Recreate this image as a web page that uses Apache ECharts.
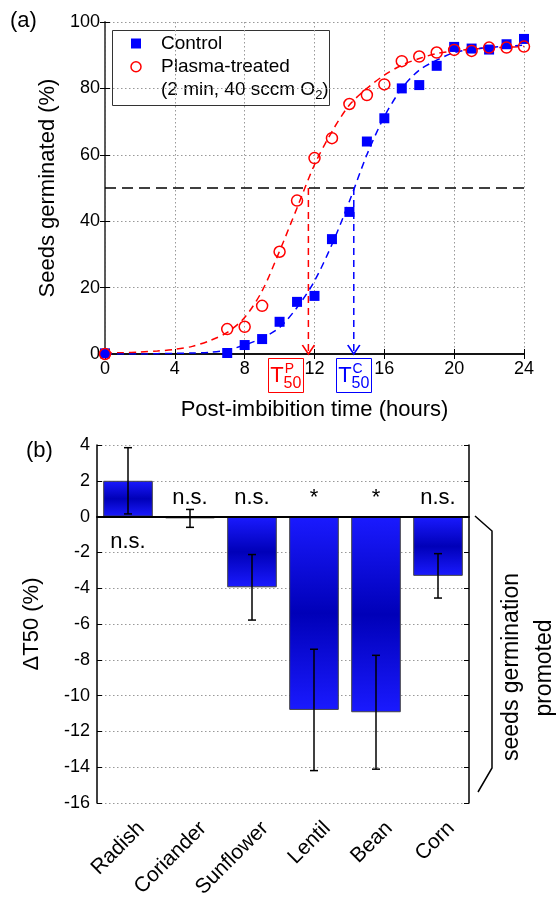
<!DOCTYPE html>
<html>
<head>
<meta charset="utf-8">
<script src="https://cdn.jsdelivr.net/npm/echarts@6/dist/echarts.min.js"></script>
<style>
  html, body { margin: 0; padding: 0; background: #fff; }
  #chart { width: 559px; height: 900px; }
</style>
</head>
<body>
<div id="chart"></div>
<script>
// (a) germination data
const hours = [0, 7, 8, 9, 10, 11, 12, 13, 14, 15, 16, 17, 18, 19, 20, 21, 22, 23, 24];
const control = [0.2, 0.3, 2.7, 4.5, 9.7, 15.7, 17.5, 34.6, 42.8, 64, 71, 80, 81, 86.8, 92.5, 92, 91.7, 93.3, 94.9];
const plasma = [0, 7.5, 8.2, 14.5, 30.8, 46.2, 59, 65, 75.3, 78, 81.2, 88.2, 89.6, 90.8, 91.6, 91.3, 92.3, 92.3, 92.6];

// dashed fit curves
const fitHours = [0, 1, 2, 3, 4, 5, 6, 7, 8, 9, 10, 11, 12, 13, 14, 15, 16, 17, 18, 19, 20, 21, 22, 23, 24];
const plasmaFit = [0.3, 0.4, 0.6, 0.9, 1.4, 2.3, 4, 6.5, 11, 19, 31, 44, 57, 67, 75, 80, 84, 87, 89, 90.5, 91.3, 91.8, 92.2, 92.4, 92.6];
const controlFit = [0, 0, 0, 0.1, 0.2, 0.3, 0.5, 1.2, 2.7, 4.8, 8, 14, 22, 33, 46, 60, 71.5, 80, 85.5, 88.5, 90.8, 91.8, 92.3, 92.7, 93];

const t50Plasma = 11.65;
const t50Control = 14.25;
const halfLevel = 50;

// (b) delta T50
const crops = ['Radish', 'Coriander', 'Sunflower', 'Lentil', 'Bean', 'Corn'];
const deltaT50 = [2.0, -0.1, -3.95, -10.8, -10.93, -3.31];
const deltaErr = [1.85, 0.5, 1.83, 3.39, 3.18, 1.24];
const sigLabels = ['n.s.', 'n.s.', 'n.s.', '*', '*', 'n.s.'];
const sigLabelY = [-1.4, 1.05, 1.05, 1.05, 1.05, 1.05];

const FONT = '"Liberation Sans", Arial, sans-serif';
const RED = '#ff0000';
const BLUE = '#0000ff';

const chart = echarts.init(document.getElementById('chart'));

const pairs = (xs, ys) => xs.map((x, i) => [x, ys[i]]);
const dotted = { color: '#999', width: 1, type: [1.5, 2.5] };
const arrowItem = (x, c) => ({ value: [x, 0], itemStyle: { color: 'none', borderColor: c, borderWidth: 1.5, opacity: 1 } });

const option = {
  animation: false,
  backgroundColor: '#fff',
  textStyle: { fontFamily: FONT, color: '#000' },
  grid: [
    { left: 105, right: 35, top: 22, height: 332, outerBoundsMode: 'none' },
    { left: 97, right: 90, top: 445, height: 358, outerBoundsMode: 'none' },
  ],
  xAxis: [
    {
      gridIndex: 0, type: 'value', min: 0, max: 24, interval: 4, position: 'bottom',
      axisLine: { lineStyle: { color: '#555', width: 2 } },
      axisTick: { inside: true, length: 5, lineStyle: { color: '#000' } },
      axisLabel: { fontSize: 18, color: '#000', margin: 6, fontFamily: FONT },
      splitLine: { show: true, lineStyle: dotted },
      name: 'Post-imbibition time (hours)', nameLocation: 'middle', nameGap: 45,
      nameTextStyle: { fontSize: 22, color: '#000', fontFamily: FONT },
    },
    {
      gridIndex: 0, type: 'value', min: 0, max: 24, interval: 4, position: 'top',
      axisLine: { lineStyle: { color: '#000', width: 1.5 } },
      axisTick: { inside: true, length: 5, lineStyle: { color: '#000' } },
      axisLabel: { show: false }, splitLine: { show: false },
    },
    {
      gridIndex: 1, type: 'category', data: crops, position: 'bottom',
      axisLine: { lineStyle: { color: '#000', width: 1.5 } },
      axisTick: { inside: true, length: 6, alignWithLabel: true, lineStyle: { color: '#000' } },
      axisLabel: {
        fontSize: 21, color: '#000', fontFamily: FONT, rotate: 45, interval: 0,
        margin: 9, verticalAlign: 'top', padding: [8, 0, 0, 0],
      },
    },
    {
      gridIndex: 1, type: 'category', data: crops, position: 'top',
      axisLine: { lineStyle: { color: '#000', width: 1.5 } },
      axisTick: { inside: true, length: 6, alignWithLabel: true, lineStyle: { color: '#000' } },
      axisLabel: { show: false },
    },
  ],
  yAxis: [
    {
      gridIndex: 0, type: 'value', min: 0, max: 100, interval: 20, position: 'left',
      axisLine: { show: true, lineStyle: { color: '#000', width: 1.5 } },
      axisTick: { show: true, inside: true, length: 5, lineStyle: { color: '#000' } },
      axisLabel: { fontSize: 18, color: '#000', margin: 5, fontFamily: FONT },
      splitLine: { show: true, lineStyle: dotted },
      name: 'Seeds germinated (%)', nameLocation: 'middle', nameGap: 39,
      nameTextStyle: { fontSize: 22, color: '#000', fontFamily: FONT },
    },
    {
      gridIndex: 0, type: 'value', min: 0, max: 100, interval: 20, position: 'right',
      axisLine: { show: true, lineStyle: { color: '#666', width: 1.5 } },
      axisTick: { show: true, inside: true, length: 5, lineStyle: { color: '#000' } },
      axisLabel: { show: false }, splitLine: { show: false },
    },
    {
      gridIndex: 1, type: 'value', min: -16, max: 4, interval: 2, position: 'left',
      axisLine: { show: true, lineStyle: { color: '#000', width: 1.5 } },
      axisTick: { show: true, inside: true, length: 5, lineStyle: { color: '#000' } },
      axisLabel: { fontSize: 18, color: '#000', margin: 7, fontFamily: FONT },
      splitLine: { show: true, lineStyle: dotted },
      name: 'ΔT50 (%)', nameLocation: 'middle', nameGap: 54,
      nameTextStyle: { fontSize: 22, color: '#000', fontFamily: FONT },
    },
    {
      gridIndex: 1, type: 'value', min: -16, max: 4, interval: 2, position: 'right',
      axisLine: { show: true, lineStyle: { color: '#000', width: 1.5 } },
      axisTick: { show: true, inside: true, length: 5, lineStyle: { color: '#000' } },
      axisLabel: { show: false }, splitLine: { show: false },
    },
  ],
  series: [
    // --- (a) ---
    {
      type: 'line', xAxisIndex: 0, yAxisIndex: 0, data: [[0, halfLevel], [24, halfLevel]],
      symbol: 'none', lineStyle: { color: '#000', width: 1.5, type: [11, 6] }, z: 2,
    },
    {
      type: 'line', xAxisIndex: 0, yAxisIndex: 0, data: pairs(fitHours, plasmaFit),
      symbol: 'none', smooth: 0.3, lineStyle: { color: RED, width: 1.5, type: [7, 5] }, z: 3,
    },
    {
      type: 'line', xAxisIndex: 0, yAxisIndex: 0, data: pairs(fitHours, controlFit),
      symbol: 'none', smooth: 0.3, lineStyle: { color: BLUE, width: 1.5, type: [7, 5] }, z: 3,
    },
    {
      type: 'line', xAxisIndex: 0, yAxisIndex: 0, data: [[t50Plasma, halfLevel], [t50Plasma, 0]],
      symbol: 'none', lineStyle: { color: RED, width: 1.5, type: [7, 5] }, z: 3,
    },
    {
      type: 'line', xAxisIndex: 0, yAxisIndex: 0, data: [[t50Control, halfLevel], [t50Control, 0]],
      symbol: 'none', lineStyle: { color: BLUE, width: 1.5, type: [7, 5] }, z: 3,
    },
    {
      type: 'scatter', xAxisIndex: 0, yAxisIndex: 0,
      data: [arrowItem(t50Plasma, RED), arrowItem(t50Control, BLUE)],
      symbol: 'path://M0,0L6,9L12,0', symbolSize: [12, 9], symbolOffset: [0, '-50%'], z: 4,
    },
    {
      name: 'Control', type: 'scatter', xAxisIndex: 0, yAxisIndex: 0, data: pairs(hours, control),
      symbol: 'rect', symbolSize: 10, itemStyle: { color: BLUE, opacity: 1 }, z: 5,
    },
    {
      name: 'Plasma-treated', type: 'scatter', xAxisIndex: 0, yAxisIndex: 0, data: pairs(hours, plasma),
      symbol: 'circle', symbolSize: 11,
      itemStyle: { color: 'rgba(0,0,0,0)', borderColor: RED, borderWidth: 1.5, opacity: 1 }, z: 6,
    },
    // --- (b) ---
    {
      type: 'bar', xAxisIndex: 2, yAxisIndex: 2, data: deltaT50, barWidth: '80%',
      itemStyle: {
        borderColor: '#444', borderWidth: 1,
        color: new echarts.graphic.LinearGradient(0, 0, 0, 1, [
          { offset: 0, color: '#1a1aff' },
          { offset: 0.5, color: '#0000b8' },
          { offset: 1, color: '#1a1aff' },
        ]),
      },
      markLine: {
        silent: true, symbol: ['none', 'none'], label: { show: false },
        lineStyle: { color: '#000', width: 2, type: 'solid' },
        data: [{ yAxis: 0 }],
      },
      z: 2,
    },
    {
      type: 'custom', xAxisIndex: 2, yAxisIndex: 2,
      data: deltaT50.map((v, i) => [i, v, deltaErr[i]]),
      renderItem: function (params, api) {
        const i = api.value(0);
        const hi = api.coord([i, api.value(1) + api.value(2)]);
        const lo = api.coord([i, api.value(1) - api.value(2)]);
        const w = 4;
        const st = { stroke: '#000', lineWidth: 1.5 };
        return {
          type: 'group',
          children: [
            { type: 'line', shape: { x1: hi[0], y1: hi[1], x2: lo[0], y2: lo[1] }, style: st },
            { type: 'line', shape: { x1: hi[0] - w, y1: hi[1], x2: hi[0] + w, y2: hi[1] }, style: st },
            { type: 'line', shape: { x1: lo[0] - w, y1: lo[1], x2: lo[0] + w, y2: lo[1] }, style: st },
          ],
        };
      },
      z: 5,
    },
    {
      type: 'scatter', xAxisIndex: 2, yAxisIndex: 2,
      data: sigLabelY.map((y, i) => [i, y]), symbolSize: 0,
      itemStyle: { opacity: 1 },
      label: {
        show: true, position: 'inside', fontSize: 22, color: '#000', opacity: 1, fontFamily: FONT,
        formatter: (p) => sigLabels[p.dataIndex],
      },
      z: 6,
    },
  ],
  graphic: [
    { type: 'text', left: 10, top: 10, style: { text: '(a)', fontSize: 22, fontFamily: FONT, fill: '#000' } },
    { type: 'text', left: 26, top: 440, style: { text: '(b)', fontSize: 22, fontFamily: FONT, fill: '#000' } },
    // legend box
    {
      type: 'group', z: 100,
      children: [
        { type: 'rect', shape: { x: 112.5, y: 30.5, width: 217, height: 75 }, style: { fill: '#fff', stroke: '#333', lineWidth: 1 } },
        { type: 'rect', shape: { x: 131, y: 38.5, width: 10, height: 10 }, style: { fill: BLUE } },
        { type: 'circle', shape: { cx: 136, cy: 66.7, r: 5 }, style: { fill: 'none', stroke: RED, lineWidth: 1.5 } },
        { type: 'text', x: 161, y: 43.5, style: { text: 'Control', fontSize: 19, fontFamily: FONT, fill: '#000', verticalAlign: 'middle' } },
        { type: 'text', x: 161, y: 67, style: { text: 'Plasma-treated', fontSize: 19, fontFamily: FONT, fill: '#000', verticalAlign: 'middle' } },
        {
          type: 'text', x: 161, y: 90,
          style: {
            text: '{a|(2 min, 40 sccm O}{s|2}{a|)}', fontFamily: FONT, fill: '#000', verticalAlign: 'middle',
            rich: { a: { fontSize: 19, fontFamily: FONT }, s: { fontSize: 13, fontFamily: FONT, padding: [10, 0, 0, 0] } },
          },
        },
      ],
    },
    // T50 boxes
    {
      type: 'group', z: 100,
      children: [
        { type: 'rect', shape: { x: 268.5, y: 358.5, width: 35, height: 34 }, style: { fill: '#fff', stroke: RED, lineWidth: 1 } },
        { type: 'text', x: 277, y: 376, style: { text: 'T', fontSize: 22, fontFamily: FONT, fill: RED, align: 'center', verticalAlign: 'middle' } },
        { type: 'text', x: 289.5, y: 369.5, style: { text: 'P', fontSize: 14, fontFamily: FONT, fill: RED, align: 'center', verticalAlign: 'middle' } },
        { type: 'text', x: 292.5, y: 384, style: { text: '50', fontSize: 16, fontFamily: FONT, fill: RED, align: 'center', verticalAlign: 'middle' } },
        { type: 'rect', shape: { x: 336.5, y: 358.5, width: 35, height: 34 }, style: { fill: '#fff', stroke: BLUE, lineWidth: 1 } },
        { type: 'text', x: 345, y: 376, style: { text: 'T', fontSize: 22, fontFamily: FONT, fill: BLUE, align: 'center', verticalAlign: 'middle' } },
        { type: 'text', x: 357.5, y: 369.5, style: { text: 'C', fontSize: 14, fontFamily: FONT, fill: BLUE, align: 'center', verticalAlign: 'middle' } },
        { type: 'text', x: 360.5, y: 384, style: { text: '50', fontSize: 16, fontFamily: FONT, fill: BLUE, align: 'center', verticalAlign: 'middle' } },
      ],
    },
    // brace and its note
    {
      type: 'polyline', z: 100,
      shape: { points: [[475, 516], [492, 531], [492, 768], [478, 792]] },
      style: { fill: 'none', stroke: '#000', lineWidth: 1.5 },
    },
    {
      type: 'text', x: 512, y: 667, rotation: Math.PI / 2,
      style: { text: 'seeds germination', fontSize: 23, fontFamily: FONT, fill: '#000', align: 'center', verticalAlign: 'middle' },
    },
    {
      type: 'text', x: 545, y: 668, rotation: Math.PI / 2,
      style: { text: 'promoted', fontSize: 23, fontFamily: FONT, fill: '#000', align: 'center', verticalAlign: 'middle' },
    },
  ],
};

chart.setOption(option);
</script>
</body>
</html>
